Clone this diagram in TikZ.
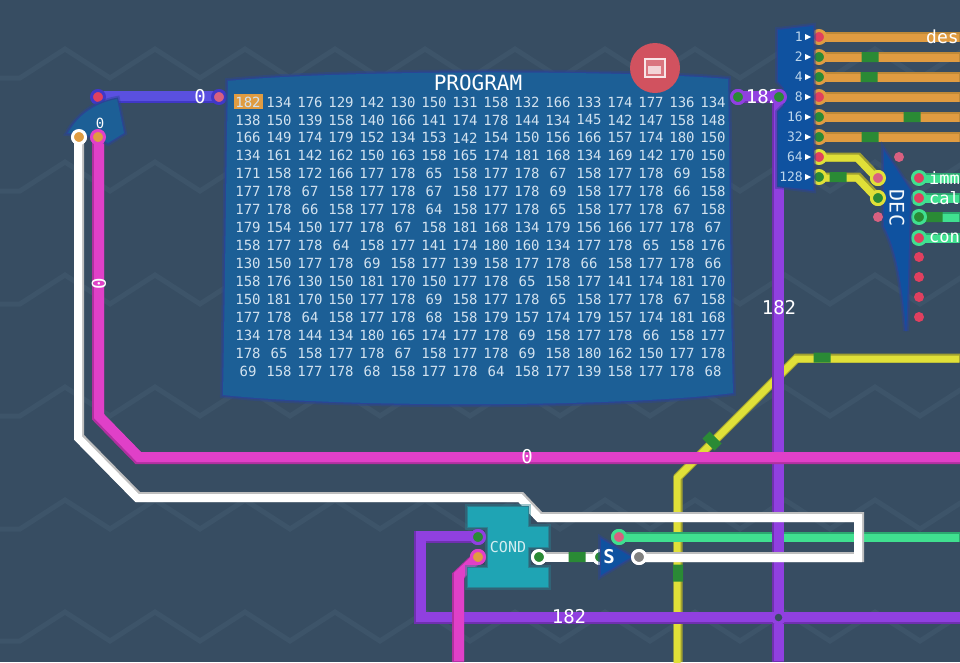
\documentclass[tikz,border=0pt]{standalone}
\usepackage{fontspec}
\setmonofont{DejaVu Sans Mono}
\usetikzlibrary{shapes.misc,shapes.geometric,calc}
\definecolor{bgc}{HTML}{374D62}
\definecolor{zig}{HTML}{3D5469}
\definecolor{prog}{HTML}{1C5F96}
\definecolor{deep}{HTML}{0F52A0}
\definecolor{glowb}{HTML}{2A4595}
\definecolor{orng}{HTML}{E09C41}
\definecolor{orngd}{HTML}{C08A38}
\definecolor{yel}{HTML}{E0E038}
\definecolor{yeld}{HTML}{A0A030}
\definecolor{pur}{HTML}{9040E0}
\definecolor{purd}{HTML}{7030B0}
\definecolor{mag}{HTML}{E040C8}
\definecolor{magd}{HTML}{B030A0}
\definecolor{vio}{HTML}{5A50E0}
\definecolor{viod}{HTML}{4038C8}
\definecolor{grn}{HTML}{40E090}
\definecolor{grnd}{HTML}{2CA870}
\definecolor{wht}{HTML}{FFFFFF}
\definecolor{whtd}{HTML}{BEBEBE}
\definecolor{redp}{HTML}{E0405F}
\definecolor{pink}{HTML}{D86080}
\definecolor{dkg}{HTML}{2A8A35}
\definecolor{teal2}{HTML}{1FA4B4}
\definecolor{tealg}{HTML}{2A7F90}
\definecolor{savec}{HTML}{D1525F}
\definecolor{cellc}{HTML}{D2E2EF}
\definecolor{celllc}{HTML}{BDD6EC}
\pgfdeclarelayer{bg}\pgfdeclarelayer{wires}\pgfdeclarelayer{labels}
\pgfsetlayers{bg,wires,main,labels}
\tikzset{
  pinnode/.style={circle,minimum size=13,inner sep=0,outer sep=0,line width=3},
  dotnode/.style={circle,minimum size=10,inner sep=0,outer sep=0},
  flow/.style={chamfered rectangle,chamfered rectangle xsep=3,chamfered rectangle ysep=3,inner sep=0,outer sep=0,fill=dkg,minimum width=#1,minimum height=10},
  cell/.style={inner sep=0,text=cellc,font=\ttfamily\fontsize{14}{14}\selectfont},
  wlabel/.style={inner sep=0,text=white,font=\ttfamily\fontsize{19}{19}\selectfont},
  sidelabel/.style={inner sep=0,anchor=west,text=white,font=\ttfamily\fontsize{17}{17}\selectfont},
  bitlabel/.style={inner sep=0,anchor=east,text=celllc,font=\ttfamily\fontsize{13}{13}\selectfont},
  glowy/.style={preaction={draw=#1,line width=6,opacity=.45},preaction={draw=#1,line width=2.5}},
}
% width, main colour, dark colour, shift, path
\newcommand\wirepath[5]{%
  \draw[line width=#1pt,draw=#3,line join=miter] #5;
  \draw[line width=#1pt-2pt,draw=#2,line join=miter,transform canvas={shift={(#4)}}] #5;}
\newcommand\wireA[4][12]{\wirepath{#1}{#2}{#3}{1pt,1pt}{#4}}
\newcommand\wireB[4][10]{\wirepath{#1}{#2}{#3}{-1pt,-1pt}{#4}}
\newcommand\pin[5]{\node[pinnode,draw=#4,fill=#5] (#1) at (#2,#3) {};}
\begin{document}
\begin{tikzpicture}[x=1pt,y=-1pt]
\useasboundingbox (0,0) rectangle (960,662);
\begin{pgfonlayer}{bg}
\fill[bgc] (0,0) rectangle (960,662);
\foreach \ry in {49,162,275,387,500,612}{
  \draw[zig,line width=5,line join=miter]
   (-25,\ry+29) \foreach \k in {0,...,11}{ -- ({65+90*\k-45},\ry+29) -- ({65+90*\k},\ry) } -- (1055,\ry+29);
}
\end{pgfonlayer}

% ---------- pins ----------
\pin{monA}{79}{137}{white}{orng}
\pin{monB}{98}{137}{mag}{orng}
\pin{monIn}{98}{97}{viod}{redp}
\pin{progIn}{219}{97}{viod}{pink}
\pin{progOut}{738}{97}{pur}{dkg}
\pin{shIn}{779}{97}{pur}{dkg}
\pin{condA}{478}{537}{pur}{dkg}
\pin{condB}{478}{557}{mag}{orng}
\pin{condOut}{539}{557}{white}{dkg}
\pin{swIn}{600}{557}{white}{dkg}
\pin{swCtl}{619}{537}{grn}{pink}
\pin{swOut}{639}{557}{white}{gray}
\pin{sh1}{819}{37}{orng}{redp}
\pin{sh2}{819}{57}{orng}{dkg}
\pin{sh4}{819}{77}{orng}{dkg}
\pin{sh8}{819}{97}{orng}{redp}
\pin{sh16}{819}{117}{orng}{dkg}
\pin{sh32}{819}{137}{orng}{dkg}
\pin{sh64}{819}{157}{yel}{redp}
\pin{sh128}{819}{177}{yel}{dkg}
\pin{decA}{878}{178}{yel}{pink}
\pin{decB}{878}{198}{yel}{dkg}
\pin{dec1}{919}{178}{grn}{redp}
\pin{dec2}{919}{198}{grn}{redp}
\pin{dec3}{919}{217}{grn}{dkg}
\pin{dec4}{919}{238}{grn}{redp}

% ---------- bends and free ends ----------
\coordinate (yb1) at (678,662); \coordinate (yb2) at (678,477);
\coordinate (yb3) at (797,358); \coordinate (yb4) at (960,358);
\coordinate (gE) at (960,537);
\coordinate (pb1) at (420,537); \coordinate (pb2) at (420,618); \coordinate (pE) at (960,618);
\coordinate (pv) at (778,662); \coordinate (pvt) at (778,97);
\coordinate (mb1) at (98,417); \coordinate (mb2) at (138,458); \coordinate (mE) at (960,458);
\coordinate (mc1) at (458,662); \coordinate (mc2) at (458,576);
\coordinate (wb1) at (79,437); \coordinate (wb2) at (138,497); \coordinate (wb3) at (521,497);
\coordinate (wb4) at (540,517); \coordinate (wb5) at (859,517); \coordinate (wb6) at (859,557);
\coordinate (y64a) at (858,157); \coordinate (y128a) at (858,177);

\begin{pgfonlayer}{wires}
% yellow, under everything
\wireB[9]{yel}{yeld}{(yb1) -- (yb2) -- (yb3) -- (yb4)}
\wireB[9]{yel}{yeld}{(sh64.center) -- (y64a) -- (decA.center)}
\wireB[9]{yel}{yeld}{(sh128.center) -- (y128a) -- (decB.center)}
% green
\wireB{grn}{grnd}{(swCtl.center) -- (gE)}
\foreach \n/\yy in {dec1/178,dec2/198,dec3/217,dec4/238}{
  \coordinate (E\n) at (960,\yy);
  \wireB{grn}{grnd}{(\n.center) -- (E\n)}
}
% orange
\foreach \n/\yy in {sh1/37,sh2/57,sh4/77,sh8/97,sh16/117,sh32/137}{
  \coordinate (E\n) at (960,\yy);
  \wireB{orng}{orngd}{(\n.center) -- (E\n)}
}
% purple
\wireA{pur}{purd}{(progOut.center) -- (shIn.center)}
\wireA{pur}{purd}{(pvt) -- (pv)}
\wireA{pur}{purd}{(condA.center) -- (pb1) -- (pb2) -- (pE)}
% magenta
\wireA{mag}{magd}{(monB.center) -- (mb1) -- (mb2) -- (mE)}
\wireA{mag}{magd}{(mc1) -- (mc2) -- (condB.center)}
% violet
\wireA{vio}{viod}{(monIn.center) -- (progIn.center)}
% white
\wireB{wht}{whtd}{(monA.center) -- (wb1) -- (wb2) -- (wb3) -- (wb4) -- (wb5) -- (wb6) -- (swOut.center)}
\wireB{wht}{whtd}{(condOut.center) -- (swIn.center)}
% flow marks
\node[flow=17,rotate=0]  (f1) at (822,357.5) {};
\node[flow=17,rotate=-45] (f2) at (712,441) {};
\node[flow=17,rotate=90] (f3) at (678,573) {};
\node[flow=17] (f4) at (577,557) {};
\node[flow=17] (f5) at (870,57) {};
\node[flow=17] (f6) at (869,77) {};
\node[flow=17] (f7) at (912,117) {};
\node[flow=17] (f8) at (870,137) {};
\node[flow=17] (f9) at (838,177) {};
\node[flow=17] (f10) at (934,217) {};
\end{pgfonlayer}
\node[circle,fill=pur,minimum size=15,inner sep=0] (jn) at (778.5,617.5) {};
\node[circle,fill=bgc,minimum size=7.5,inner sep=0] (jn2) at (778.5,617.5) {};

% ---------- mux ----------
\path[fill=prog,glowy=glowb] (68,133) .. controls (78,115) and (95,103) .. (117,99) -- (124,133) -- (108,143) -- (98,137) -- (79,134) -- cycle;
\node[pinnode,draw=white,fill=orng] (monA2) at (monA) {};
\node[pinnode,draw=mag,fill=orng] (monB2) at (monB) {};
\node[inner sep=0,text=white,font=\ttfamily\fontsize{14}{14}\selectfont] (muxl) at (100,123) {0};

% ---------- program ----------
\path[fill=prog,glowy=glowb] (228,81) .. controls (340,70) and (620,70) .. (728,79)
  .. controls (730,180) and (730,290) .. (733,393)
  .. controls (620,407.5) and (340,407.5) .. (223,395)
  .. controls (225,290) and (226,180) .. (228,81) -- cycle;
\node[inner sep=0,text=white,font=\ttfamily\fontsize{21}{21}\selectfont] (progt) at (478,83) {PROGRAM};
\fill[orng] (234,94) rectangle (263,109);
\foreach \rowv [count=\r from 0] in {
 {182,134,176,129,142,130,150,131,158,132,166,133,174,177,136,134},
 {138,150,139,158,140,166,141,174,178,144,134,145,142,147,158,148},
 {166,149,174,179,152,134,153,142,154,150,156,166,157,174,180,150},
 {134,161,142,162,150,163,158,165,174,181,168,134,169,142,170,150},
 {171,158,172,166,177,178,65,158,177,178,67,158,177,178,69,158},
 {177,178,67,158,177,178,67,158,177,178,69,158,177,178,66,158},
 {177,178,66,158,177,178,64,158,177,178,65,158,177,178,67,158},
 {179,154,150,177,178,67,158,181,168,134,179,156,166,177,178,67},
 {158,177,178,64,158,177,141,174,180,160,134,177,178,65,158,176},
 {130,150,177,178,69,158,177,139,158,177,178,66,158,177,178,66},
 {158,176,130,150,181,170,150,177,178,65,158,177,141,174,181,170},
 {150,181,170,150,177,178,69,158,177,178,65,158,177,178,67,158},
 {177,178,64,158,177,178,68,158,179,157,174,179,157,174,181,168},
 {134,178,144,134,180,165,174,177,178,69,158,177,178,66,158,177},
 {178,65,158,177,178,67,158,177,178,69,158,180,162,150,177,178},
 {69,158,177,178,68,158,177,178,64,158,177,139,158,177,178,68}}{
  \foreach \v [count=\c from 0] in \rowv {
    \node[cell,name=cell-\r-\c] at ({248+31*\c},{102+17.93*\r}) {\v};
  }
}

% ---------- save button ----------
\node[circle,fill=savec,minimum size=50,inner sep=0] (save) at (655,68) {};
\node[rectangle,draw=white!85!savec,fill=savec!80!white,line width=2,minimum width=20,minimum height=18,inner sep=0] (saveb) at (655,68) {};
\node[rectangle,fill=white!75!savec,minimum width=13,minimum height=8,inner sep=0] (savei) at (654.5,70) {};

% ---------- splitter ----------
\path[fill=deep,glowy=glowb] (778,30) -- (813,26) -- (813,190) -- (778,186) -- (778,112) -- (784,106) -- (784,88) -- (778,81) -- cycle;
\foreach \n/\t/\yy in {sh1/1/37,sh2/2/57,sh4/4/77,sh8/8/97,sh16/16/117,sh32/32/137,sh64/64/157,sh128/128/177}{
  \node[bitlabel] (lab\n) at (803,\yy) {\t};
  \fill[white] (805,\yy-3) -- (811,\yy) -- (805,\yy+3) -- cycle;
}
\node[wlabel] (l182a) at (763,97) {182};
\node[pinnode,draw=pur,fill=dkg] (shIn2) at (shIn) {};
\node[pinnode,draw=pur,fill=dkg] (progOut2) at (progOut) {};

% ---------- decoder ----------
\path[fill=deep,glowy=glowb] (884,151) -- (910,190) .. controls (909,240) and (908,290) .. (906,331)
  .. controls (903,290) and (897,250) .. (884,226) -- cycle;
\node[inner sep=0,text=white!85!celllc,rotate=-90,font=\ttfamily\fontsize{20}{20}\selectfont] (decl) at (897,208) {DEC};
\node[dotnode,fill=pink] (dz1) at (899,157) {};
\node[dotnode,fill=pink] (dz2) at (878,217) {};
\foreach \n/\yy in {q1/257,q2/277,q3/297,q4/317}{
  \node[dotnode,fill=redp] (\n) at (919,\yy) {};
}
\node[pinnode,draw=yel,fill=pink] (decA2) at (decA) {};
\node[pinnode,draw=yel,fill=dkg] (decB2) at (decB) {};

% ---------- COND ----------
\path[fill=teal2,glowy=tealg] (468,507) -- (528,507) -- (528,527) -- (548,527) -- (548,547) -- (528,547) -- (528,568) -- (548,568) -- (548,587)
   -- (468,587) -- (468,568) -- (488,568) -- (488,527) -- (468,527) -- cycle;
\node[inner sep=0,text=white!80!teal2,font=\ttfamily\fontsize{15}{15}\selectfont] (condl) at (508,547) {COND};
\node[pinnode,draw=pur,fill=dkg] (condA2) at (condA) {};
\node[pinnode,draw=mag,fill=orng] (condB2) at (condB) {};
\node[pinnode,draw=white,fill=dkg] (condOut2) at (condOut) {};

% ---------- switch ----------
\node[pinnode,draw=white,fill=dkg] (swIn2) at (swIn) {};
\path[fill=deep,glowy=glowb] (601,539) -- (631,557) -- (601,575) -- cycle;
\node[inner sep=0,text=white,font=\ttfamily\bfseries\fontsize{19}{19}\selectfont] (swl) at (609,557) {S};
\node[pinnode,draw=grn,fill=pink] (swCtl2) at (swCtl) {};
\node[pinnode,draw=white,fill=gray] (swOut2) at (swOut) {};

% ---------- labels ----------
\begin{pgfonlayer}{labels}
\node[wlabel] (l0a) at (200,97) {0};
\node[wlabel,rotate=90] (l0b) at (99,284) {0};
\node[wlabel] (l0c) at (527,457) {0};
\node[wlabel] (l182b) at (779,308) {182};
\node[wlabel] (l182c) at (569,617) {182};
\node[sidelabel,font=\ttfamily\fontsize{18}{18}\selectfont] (tdes) at (926,37) {des};
\node[sidelabel] (timm) at (929,178) {imm};
\node[sidelabel] (tcal) at (929,198) {cal};
\node[sidelabel] (tcon) at (929,238) {con};
\end{pgfonlayer}
\end{tikzpicture}
\end{document}
